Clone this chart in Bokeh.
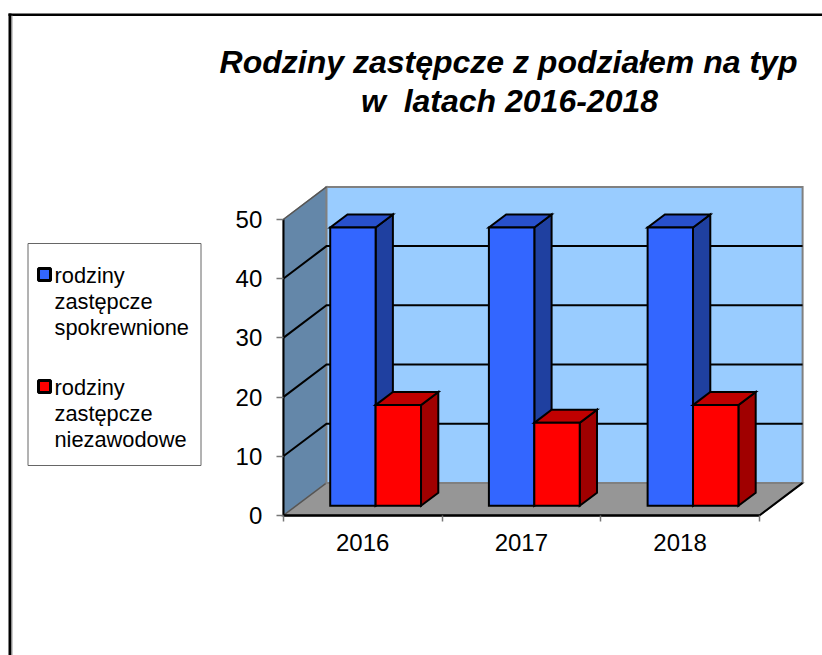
from bokeh.plotting import figure
from bokeh.models import LinearAxis, FixedTicker, Range1d
from bokeh.core.properties import value
from bokeh.embed import file_html
from bokeh.resources import INLINE

title_lines = ["Rodziny zastępcze z podziałem na typ", "w\u00a0 latach 2016-2018"]
categories = ["2016", "2017", "2018"]
spokrewnione = [47, 47, 47]
niezawodowe = [17, 14, 17]
legend_lines_a = ["rodziny", "zastępcze", "spokrewnione"]
legend_lines_b = ["rodziny", "zastępcze", "niezawodowe"]
y_ticks = [0, 10, 20, 30, 40, 50]

FONT = "Liberation Sans"
W, H = 822, 655
OX, OY = 0, 0
X0, Y0 = 282.8, 515.0      # page position of the front origin
CW, VU = 158.7, 5.92       # pixels per category, pixels per value unit
DX, DY = 43.2 / CW, 32.6 / VU   # full depth expressed in data units
BAR_W = 45.4 / CW
Z0, Z1 = 0.30, 0.70        # bar depth span
N = len(categories)
VMAX = y_ticks[-1]


def fx(px):
    return (px - X0) / CW


def fy(py):
    return (Y0 - py) / VU


p = figure(width=W, height=H, output_backend="svg", toolbar_location=None,
           x_axis_location=None, y_axis_location=None, min_border=0,
           x_range=Range1d(fx(OX), fx(OX + W)), y_range=Range1d(fy(OY + H), fy(OY)),
           outline_line_color=None, background_fill_color="white",
           border_fill_color="white")
p.grid.visible = False


def poly(xs, ys, fill, line="black", width=2.0):
    p.patch(xs, ys, fill_color=fill, line_color=line, line_width=width, line_join="miter")


def seg(xs, ys, color="black", width=2.0):
    p.line(xs, ys, line_color=color, line_width=width, line_cap="butt", line_join="miter")


# page frame
p.quad(left=[fx(8), fx(8)], right=[fx(11), fx(822)], top=[fy(655), fy(13)], bottom=[fy(13), fy(15.5)],
       fill_color="black", line_color=None)
p.quad(left=[fx(11)], right=[fx(12)], top=[fy(15)], bottom=[fy(655)], fill_color="#999999", line_color=None)

# walls
poly([0, DX, DX, 0], [0, DY, VMAX + DY, VMAX], "#6487A9", "#808080", 1.5)
poly([0, N, N + DX, DX], [0, 0, DY, DY], "#969696", "#555555", 1.5)
poly([DX, N + DX, N + DX, DX], [DY, DY, VMAX + DY, VMAX + DY], "#99CCFF", "#808080", 2.0)

# grid lines on the walls
for v in y_ticks[1:-1]:
    seg([0, DX, N + DX], [v, v + DY, v + DY])
seg([0, DX], [VMAX, VMAX + DY], "#555555", 1.5)
seg([N, N + DX], [0, DY], "black", 2.0)


def bar(x_left, val, front, side, top):
    xl, xr = x_left + Z0 * DX, x_left + BAR_W + Z0 * DX
    b, t = Z0 * DY, val + Z0 * DY
    d_x, d_y = (Z1 - Z0) * DX, (Z1 - Z0) * DY
    poly([xr, xr + d_x, xr + d_x, xr], [b, b + d_y, t + d_y, t], side)
    poly([xl, xr, xr + d_x, xl + d_x], [t, t, t + d_y, t + d_y], top)
    poly([xl, xr, xr, xl], [b, b, t, t], front)


for i in range(N):
    centre = i + 0.5
    bar(centre - BAR_W, spokrewnione[i], "#3366FF", "#1F40A0", "#2850CC")
    bar(centre, niezawodowe[i], "#FF0000", "#A00000", "#C00000")

# axes
yax = LinearAxis(ticker=FixedTicker(ticks=y_ticks), fixed_location=0, bounds=(0, VMAX))
yax.axis_line_color = "black"
yax.axis_line_width = 2
yax.major_tick_line_color = "#777777"
yax.major_tick_line_width = 1.5
yax.major_tick_in = 0
yax.major_tick_out = 7
yax.minor_tick_line_color = None
yax.major_label_text_font = FONT
yax.major_label_text_font_size = "24px"
yax.major_label_text_color = "black"
yax.major_label_standoff = 14
p.add_layout(yax, "left")

xax = LinearAxis(ticker=FixedTicker(ticks=list(range(N + 1))), fixed_location=0, bounds=(0, N))
xax.axis_line_color = "black"
xax.axis_line_width = 2.5
xax.major_tick_line_color = "#777777"
xax.major_tick_line_width = 1.5
xax.major_tick_in = 0
xax.major_tick_out = 6
xax.minor_tick_line_color = None
xax.major_label_text_color = None
p.add_layout(xax, "below")

xlab = LinearAxis(ticker=FixedTicker(ticks=[i + 0.5 for i in range(N)]), fixed_location=0,
                  major_label_overrides={i + 0.5: c for i, c in enumerate(categories)})
xlab.axis_line_color = None
xlab.major_tick_line_color = None
xlab.minor_tick_line_color = None
xlab.major_tick_in = 0
xlab.major_tick_out = 0
xlab.major_label_text_font = FONT
xlab.major_label_text_font_size = "24px"
xlab.major_label_text_color = "black"
xlab.major_label_standoff = 18
p.add_layout(xlab, "below")

# title
p.text([fx(508)], [fy(61)], text=[title_lines[0]], text_font=value(FONT), text_font_size="32px",
       text_font_style="bold italic", text_align="center", text_baseline="alphabetic", text_color="black")
p.text([fx(509)], [fy(100)], text=[title_lines[1]], text_font=value(FONT), text_font_size="32px",
       text_font_style="bold italic", text_align="center", text_baseline="alphabetic", text_color="black")

# legend
p.quad(left=[fx(27.5)], right=[fx(200.5)], top=[fy(243)], bottom=[fy(465)], fill_color="white",
       line_color="#666666", line_width=1)
for sw_top, col, lines, bases in [(268, "#3366FF", legend_lines_a, [275, 301, 327]),
                                  (380, "#FF0000", legend_lines_b, [387, 412.5, 438.5])]:
    p.quad(left=[fx(38)], right=[fx(50)], top=[fy(sw_top)], bottom=[fy(sw_top + 12)], fill_color=col,
           line_color="black", line_width=3)
    p.text([fx(54)] * 3, [fy(b) for b in bases], text=lines, text_font=value(FONT), text_font_size="21.8px",
           text_baseline="alphabetic", text_color="black")

open("out.html", "w").write(file_html(p, INLINE))
